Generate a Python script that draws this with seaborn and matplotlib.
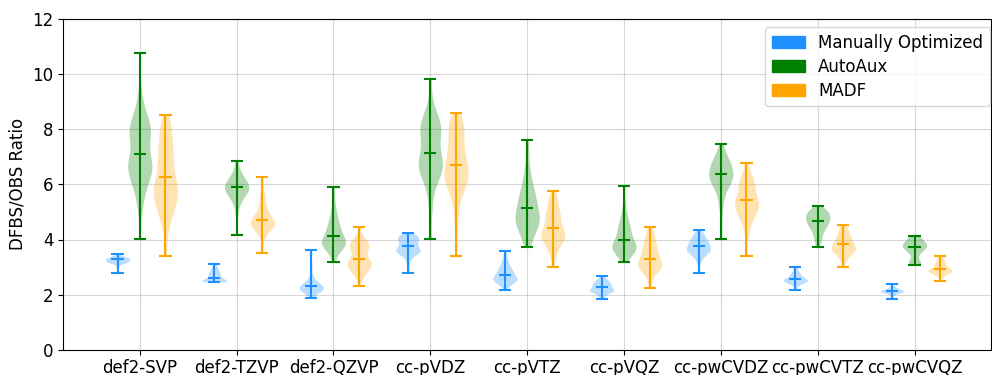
import numpy as np
import pandas as pd
import matplotlib
matplotlib.use("Agg")
import matplotlib.pyplot as plt
from matplotlib.patches import Patch
import seaborn as sns

# Auxiliary basis sets on the x axis
basis_sets = ["def2-SVP", "def2-TZVP", "def2-QZVP", "cc-pVDZ", "cc-pVTZ",
              "cc-pVQZ", "cc-pwCVDZ", "cc-pwCVTZ", "cc-pwCVQZ"]

method_names = ["Manually Optimized", "AutoAux", "MADF"]
method_colors = ["dodgerblue", "green", "orange"]
method_offsets = [-0.23, 0.0, 0.265]

# DFBS/OBS size ratios: distinct ratio values and how many elements share each
manual_values = [
    [2.79, 3.00, 3.12, 3.18, 3.22, 3.28, 3.33, 3.38, 3.46],
    [2.46, 2.49, 2.52, 2.56, 2.60, 2.66, 2.73, 2.80, 2.90, 3.00, 3.10],
    [1.88, 2.05, 2.15, 2.22, 2.30, 2.40, 2.55, 2.75, 3.10, 3.61],
    [2.80, 3.15, 3.35, 3.50, 3.62, 3.76, 3.90, 4.04, 4.15, 4.22],
    [2.15, 2.30, 2.43, 2.53, 2.62, 2.71, 2.82, 2.95, 3.10, 3.30, 3.60],
    [1.85, 1.98, 2.08, 2.16, 2.28, 2.40, 2.53, 2.68],
    [2.80, 3.15, 3.35, 3.50, 3.62, 3.76, 3.90, 4.05, 4.20, 4.34],
    [2.15, 2.30, 2.42, 2.50, 2.56, 2.65, 2.77, 2.90, 3.00],
    [1.85, 1.98, 2.06, 2.10, 2.14, 2.20, 2.28, 2.39],
]
manual_counts = [
    [1, 1, 2, 4, 4, 5, 4, 3, 1],
    [2, 4, 3, 1, 1, 2, 2, 2, 2, 1, 1],
    [1, 2, 4, 5, 4, 4, 2, 1, 1, 1],
    [1, 1, 1, 4, 5, 3, 3, 4, 3, 1],
    [1, 1, 3, 5, 3, 3, 3, 3, 2, 2, 1],
    [1, 1, 3, 5, 4, 4, 3, 1],
    [1, 1, 2, 3, 5, 4, 4, 3, 2, 1],
    [1, 1, 3, 5, 4, 3, 3, 1, 1],
    [1, 1, 3, 4, 5, 4, 2, 1],
]

autoaux_values = [
    [4.01, 5.00, 5.50, 6.00, 6.40, 6.75, 7.12, 7.50, 7.80, 8.07, 8.35, 8.80, 9.40, 10.77],
    [4.18, 4.90, 5.30, 5.55, 5.75, 5.90, 6.05, 6.25, 6.50, 6.86],
    [3.18, 3.50, 3.75, 3.92, 4.14, 4.40, 4.70, 5.05, 5.45, 5.90],
    [4.01, 5.00, 5.50, 6.00, 6.40, 6.75, 7.13, 7.50, 7.96, 8.30, 8.80, 9.84],
    [3.73, 4.05, 4.40, 4.76, 5.13, 5.50, 5.90, 6.40, 7.00, 7.61],
    [3.18, 3.40, 3.60, 3.75, 3.99, 4.30, 4.60, 4.95, 5.40, 5.94],
    [4.01, 4.60, 5.10, 5.50, 5.90, 6.15, 6.39, 6.65, 6.90, 7.15, 7.46],
    [3.72, 3.95, 4.20, 4.45, 4.67, 4.85, 5.00, 5.12, 5.23],
    [3.08, 3.19, 3.37, 3.55, 3.71, 3.85, 4.00, 4.13],
]
autoaux_counts = [
    [1, 1, 2, 3, 5, 6, 3, 2, 4, 4, 3, 2, 1, 1],
    [1, 1, 2, 3, 5, 3, 5, 3, 2, 1],
    [1, 2, 5, 6, 4, 4, 3, 2, 1, 1],
    [1, 1, 1, 2, 4, 6, 3, 3, 5, 4, 2, 1],
    [1, 2, 4, 6, 4, 4, 3, 2, 1, 1],
    [1, 2, 4, 6, 4, 4, 3, 2, 1, 1],
    [1, 1, 1, 2, 3, 5, 5, 5, 3, 2, 1],
    [1, 2, 3, 5, 6, 5, 4, 2, 1],
    [2, 3, 1, 3, 5, 5, 3, 2],
]

madf_values = [
    [3.41, 4.30, 4.80, 5.30, 5.78, 6.26, 6.70, 7.10, 7.50, 7.90, 8.20, 8.53],
    [3.51, 4.10, 4.35, 4.55, 4.70, 4.90, 5.15, 5.45, 5.80, 6.28],
    [2.31, 2.55, 2.80, 3.00, 3.15, 3.29, 3.45, 3.65, 3.80, 3.95, 4.15, 4.46],
    [3.41, 4.50, 5.00, 5.50, 5.90, 6.21, 6.50, 6.69, 7.00, 7.40, 7.96, 8.30, 8.61],
    [3.01, 3.50, 3.85, 4.16, 4.43, 4.82, 5.20, 5.50, 5.76],
    [2.25, 2.60, 2.85, 3.07, 3.31, 3.60, 3.90, 4.20, 4.47],
    [3.41, 4.20, 4.60, 4.90, 5.18, 5.42, 5.70, 6.03, 6.35, 6.78],
    [3.00, 3.30, 3.50, 3.67, 3.83, 4.00, 4.20, 4.40, 4.53],
    [2.48, 2.65, 2.75, 2.85, 2.92, 3.02, 3.15, 3.27, 3.39],
]
madf_counts = [
    [1, 1, 3, 5, 7, 4, 3, 3, 3, 2, 2, 1],
    [1, 1, 3, 6, 4, 3, 2, 2, 1, 1],
    [1, 1, 3, 5, 4, 3, 2, 3, 4, 3, 1, 1],
    [1, 1, 1, 2, 3, 5, 3, 3, 3, 4, 4, 3, 1],
    [1, 2, 4, 7, 4, 5, 3, 2, 1],
    [1, 1, 3, 6, 4, 4, 3, 2, 1],
    [1, 1, 2, 3, 5, 4, 3, 4, 2, 1],
    [1, 2, 4, 6, 4, 4, 3, 2, 1],
    [1, 1, 3, 6, 4, 3, 3, 2, 1],
]

plt.rcParams["font.size"] = 12

fig, ax = plt.subplots(figsize=(9.92, 3.75), dpi=100)
fig.subplots_adjust(left=0.0638, right=0.999, bottom=0.0675, top=0.949)

violin_width = 0.25
cap_half = violin_width / 4

series = [(manual_values, manual_counts), (autoaux_values, autoaux_counts),
          (madf_values, madf_counts)]

for (values, counts), color, offset in zip(series, method_colors, method_offsets):
    samples = [np.repeat(v, c) for v, c in zip(values, counts)]
    rows = [(i + offset, r) for i, s in enumerate(samples) for r in s]
    df = pd.DataFrame(rows, columns=["pos", "ratio"])
    sns.violinplot(data=df, x="pos", y="ratio", native_scale=True, orient="x",
                   color=color, saturation=1, width=violin_width, cut=0,
                   inner=None, linewidth=0, density_norm="width",
                   bw_adjust=0.7, alpha=0.3, ax=ax, zorder=2)

    pos = np.arange(len(samples)) + offset
    lo = np.array([s.min() for s in samples])
    hi = np.array([s.max() for s in samples])
    med = np.array([np.median(s) for s in samples])
    ax.vlines(pos, lo, hi, color=color, lw=1.5, zorder=3)
    for y in (lo, hi, med):
        ax.hlines(y, pos - cap_half, pos + cap_half, color=color, lw=1.5, zorder=3)

ax.set_xlim(-0.79, 8.79)
ax.set_xticks(np.arange(len(basis_sets)))
ax.set_xticklabels(basis_sets)
ax.set_ylim(0, 12)
ax.set_yticks(np.arange(0, 13, 2))
ax.set_xlabel("")
ax.set_ylabel("DFBS/OBS Ratio")
ax.grid(True, color="#b0b0b0", alpha=0.5, lw=0.8)
ax.set_axisbelow(True)
for side in ["top", "right", "bottom", "left"]:
    ax.spines[side].set_visible(True)
    ax.spines[side].set_color("black")

handles = [Patch(color=c, label=n) for c, n in zip(method_colors, method_names)]
ax.legend(handles=handles, loc="upper right", bbox_to_anchor=(0.9989, 0.975),
          borderaxespad=0, fontsize=12, labelspacing=0.35)

fig.savefig("out.png", dpi=100)
